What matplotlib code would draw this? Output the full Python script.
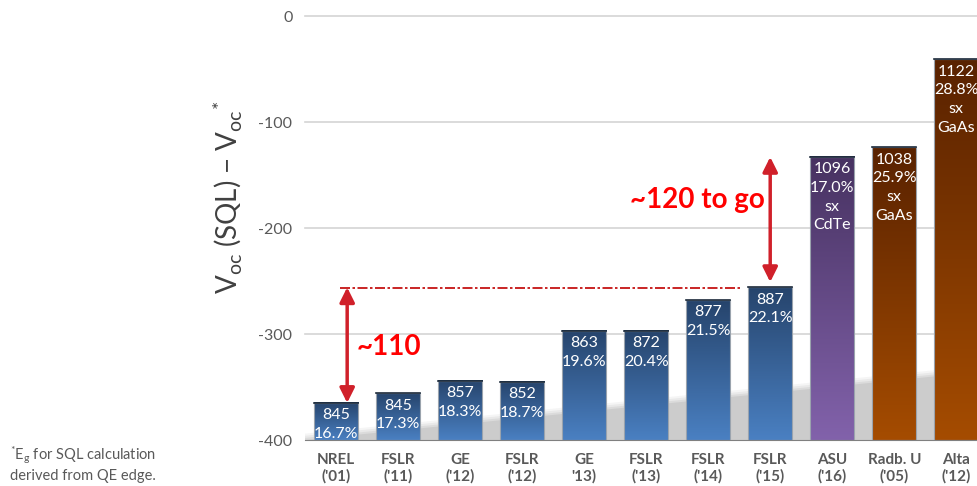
import matplotlib.pyplot as plt
import numpy as np
from matplotlib.colors import LinearSegmentedColormap

plt.rcParams['font.family'] = ['Lato', 'DejaVu Sans']
plt.rcParams['mathtext.fontset'] = 'custom'
plt.rcParams['mathtext.rm'] = 'Lato'
plt.rcParams['mathtext.it'] = 'Lato'

#==================== DATA ====================

labels = ["NREL\n('01)", "FSLR\n('11)", "GE\n('12)", "FSLR\n('12)", "GE\n'13)", "FSLR\n('13)",
          "FSLR\n('14)", "FSLR\n('15)", "ASU\n('16)", "Radb. U\n('05)", "Alta\n('12)"]
gap = [-365, -356, -344, -345, -297, -297, -268, -256, -133, -124, -41]
voc = ["845", "845", "857", "852", "863", "872", "877", "887", "1096", "1038", "1122"]
eff = ["16.7%", "17.3%", "18.3%", "18.7%", "19.6%", "20.4%", "21.5%", "22.1%", "17.0%", "25.9%", "28.8%"]
extra = ["", "", "", "", "", "", "", "", "sx\nCdTe", "sx\nGaAs", "sx\nGaAs"]
group = ["CdTe"] * 8 + ["sx CdTe", "GaAs", "GaAs"]

#==================== STYLE ====================

grad = {
    "CdTe": ("#4a80c2", "#26446c"),
    "sx CdTe": ("#8262ab", "#473261"),
    "GaAs": ("#a54c00", "#592200"),
}
red = "#d0202a"
gray = "#595959"

fig = plt.figure(figsize=(9.78, 4.86), dpi=100)
ax = fig.add_axes([305 / 978, 46 / 486, 673 / 978, 424 / 486])

x = np.arange(len(labels))
w = 0.71
ax.set_xlim(-0.5, 10.35)
ax.set_ylim(-400, 0)

for yv in [0, -100, -200, -300]:
    ax.axhline(yv, color="#d4d4d4", lw=1.2, zorder=0, clip_on=False)

# soft reflection band behind the bars
for k, a in enumerate([0.10, 0.14, 0.18, 0.25]):
    d = 6 - 2 * k
    ax.fill([-0.5, 10.35, 10.35, -0.5], [-400, -400, -336 + d, -400 + d],
            color="#a0a0a0", alpha=a, lw=0, zorder=1)

g = np.linspace(0, 1, 256).reshape(-1, 1)
for i in range(len(labels)):
    cmap = LinearSegmentedColormap.from_list(group[i], grad[group[i]])
    ax.imshow(g, cmap=cmap, extent=[x[i] - w / 2, x[i] + w / 2, -400, gap[i]],
              aspect="auto", origin="lower", zorder=2, interpolation="bicubic")
    ax.bar(x[i], gap[i] + 400, bottom=-400, width=w, facecolor="none",
           edgecolor="#9aa3ad", lw=0.8, zorder=3)
    ax.plot([x[i] - w / 2, x[i] + w / 2], [gap[i], gap[i]], color="#1c2a3a", lw=1.2, zorder=4)
    txt = voc[i] + "\n" + eff[i]
    if extra[i]:
        txt += "\n" + extra[i]
    ax.text(x[i], gap[i] - 5, txt, ha="center", va="top", color="white",
            fontsize=11.5, linespacing=1.42, zorder=5)

ax.set_xticks(x)
ax.set_xticklabels(labels, fontsize=11, fontweight="bold", color=gray, linespacing=1.25)
ax.set_yticks([0, -100, -200, -300, -400])
ax.set_yticklabels(["0", "-100", "-200", "-300", "-400"], fontsize=11.5, color=gray)
ax.tick_params(length=0)
ax.tick_params(axis="x", pad=9)
ax.tick_params(axis="y", pad=9)
for s in ["top", "right", "left"]:
    ax.spines[s].set_visible(False)
ax.spines["bottom"].set_color("#808080")
ax.set_facecolor("none")

fig.text(227 / 978, 1 - 197 / 486, r"V$_{\rm oc}$ (SQL) $-$ V$_{\rm oc}$$^{*}$", rotation=90,
         ha="center", va="center", fontsize=20, color="#404040")

# annotations
ax.plot([0.065, 6.52], [-256.5, -256.5], color="#c00000", lw=1.2, ls=(0, (6, 1.5, 1.5, 1.5)), zorder=4)
ax.annotate("", xy=(0.18, -256), xytext=(0.18, -365),
            arrowprops=dict(arrowstyle="<|-|>", color=red, lw=2.5, mutation_scale=22, shrinkA=0, shrinkB=0))
ax.annotate("", xy=(7.0, -133), xytext=(7.0, -251),
            arrowprops=dict(arrowstyle="<|-|>", color=red, lw=2.5, mutation_scale=22, shrinkA=0, shrinkB=0))
ax.text(0.34, -320, "~110", color="#ff0000", fontsize=20, fontweight="bold", ha="left", va="baseline")
ax.text(4.74, -181, "~120 to go", color="#ff0000", fontsize=20, fontweight="bold", ha="left", va="baseline")

fig.text(10 / 978, 1 - 464 / 486, r"$^{*}$E$_{\rm g}$ for SQL calculation" + "\nderived from QE edge.",
         ha="left", va="center", fontsize=10.5, color=gray, linespacing=1.25)

fig.savefig("out.png", dpi=100)
